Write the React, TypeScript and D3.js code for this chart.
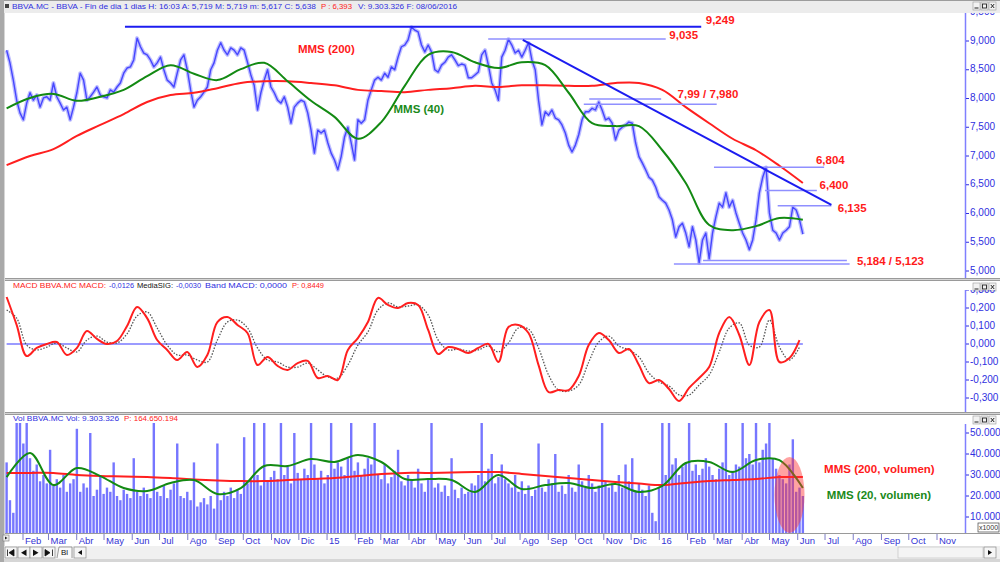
import * as d3 from 'd3';

const FONT = 'Arial, "Liberation Sans", Helvetica, sans-serif';

// one sample every ~3.7 calendar days, starting mid January 2014
const SAMPLE_START = new Date(2014, 0, 14);
const SAMPLE_STEP_HOURS = 88.2;
const MA_EVERY = 7; // moving averages read every 7th sample
const MACD_EVERY = 3; // MACD read every 3rd sample

// BBVA close, euros
const closePrices = [
  8.84, 8.62, 8.32, 7.97, 7.75, 7.63, 7.92, 8.10, 7.97, 8.06,
  7.85, 8.01, 8.03, 7.97, 8.27, 8.03, 7.92, 7.80, 7.85, 7.63,
  7.85, 8.10, 8.44, 8.32, 7.97, 8.03, 8.11, 8.20, 8.06, 8.03,
  8.01, 8.15, 8.11, 8.20, 8.27, 8.44, 8.53, 8.55, 8.67, 9.05,
  8.90, 8.79, 8.76, 8.67, 8.55, 8.62, 8.72, 8.50, 8.32, 8.27,
  8.20, 8.44, 8.67, 8.76, 8.50, 8.15, 7.85, 7.97, 8.03,
  8.11, 8.20, 8.50, 8.62, 8.84, 8.97, 8.84, 8.76, 8.88, 8.84,
  8.76, 8.88, 8.84, 8.63, 8.41, 8.23, 7.80, 8.10, 8.32, 8.50,
  8.20, 8.10, 7.97, 7.92, 8.03, 7.85, 7.57, 7.85, 7.92, 7.97,
  7.94, 7.75, 7.45, 7.05, 7.45, 7.40, 7.45, 7.23, 7.05, 6.93,
  6.76, 6.99, 7.33, 7.50, 7.23, 6.93, 7.63, 7.57, 7.63, 7.97,
  8.15, 8.32, 8.37, 8.32, 8.44, 8.37, 8.55, 8.50, 8.72, 8.90,
  8.93, 9.02, 9.24, 9.19, 9.16, 8.93, 8.81, 8.93, 8.81, 8.50,
  8.46, 8.58, 8.63, 8.72, 8.76, 8.67, 8.57, 8.60, 8.58, 8.36,
  8.36, 8.41, 8.46, 8.76, 8.84, 8.58, 8.27, 8.15, 7.97, 8.72,
  8.84, 9.03, 8.93, 8.79, 8.84, 8.72, 8.84, 8.97, 8.67, 8.50,
  7.97, 7.54, 7.77, 7.71, 7.80, 7.66, 7.63, 7.54, 7.40, 7.19,
  7.07, 7.19, 7.37, 7.63, 7.77, 7.77, 7.83, 7.80, 7.94, 7.80,
  7.63, 7.66, 7.57, 7.28, 7.45, 7.50, 7.54, 7.59, 7.57, 7.23,
  6.99, 6.88, 6.76, 6.63, 6.58, 6.46, 6.29, 6.23, 6.18, 6.06,
  5.89, 5.59, 5.77, 5.83, 5.66, 5.42, 5.77, 5.54, 5.14, 5.54,
  5.66, 5.21, 5.66, 5.94, 6.18, 6.11, 6.36, 6.11, 6.23, 6.01,
  5.83, 5.66, 5.54, 5.37, 5.54, 5.89, 6.36, 6.63, 6.80, 6.01,
  5.71, 5.66, 5.54, 5.66, 5.71, 5.77, 6.11, 6.06, 5.89, 5.64,
];

const mms200Price = [
  6.84, 7.00, 7.12, 7.35, 7.54, 7.73, 7.94, 8.06, 8.10, 8.18,
  8.27, 8.30, 8.30, 8.27, 8.23, 8.15, 8.13, 8.11, 8.15, 8.18,
  8.22, 8.20, 8.23, 8.23, 8.22, 8.22, 8.27, 8.27, 8.15, 7.85,
  7.57, 7.30, 7.10, 6.83, 6.53,
];

const mms40Price = [
  7.83, 8.01, 8.08, 7.96, 8.03, 8.15, 8.39, 8.58, 8.43, 8.32,
  8.51, 8.62, 8.30, 7.96, 7.68, 7.30, 7.59, 8.22, 8.76, 8.81,
  8.63, 8.53, 8.63, 8.58, 8.10, 7.57, 7.52, 7.52, 7.10, 6.53,
  5.80, 5.71, 5.78, 5.92, 5.89,
];

const macdValues = [
  0.261, 0.106, -0.067, -0.022, 0.000, 0.011, -0.061, -0.022, 0.072, 0.028,
  0.000, 0.017, 0.100, 0.206, 0.144, 0.022, -0.033, -0.089, -0.044, -0.128,
  -0.061, 0.122, 0.150, 0.106, 0.061, -0.117, -0.072, -0.122, -0.144, -0.106,
  -0.094, -0.189, -0.178, -0.200, -0.033, 0.033, 0.122, 0.256, 0.217, 0.200,
  0.228, 0.217, 0.078, -0.056, -0.017, -0.028, -0.050, -0.022, 0.000, -0.100,
  0.094, 0.106, 0.061, -0.117, -0.267, -0.256, -0.256, -0.178, -0.006, 0.061,
  0.022, -0.050, -0.028, -0.117, -0.217, -0.200, -0.250, -0.317, -0.244, -0.189,
  -0.128, 0.061, 0.150, 0.050, -0.117, 0.122, 0.189, -0.100, -0.078, 0.022,
];

const macdSignal = [
  0.189, 0.144, -0.006, -0.033, -0.017, 0.006, -0.022, -0.044, 0.022, 0.044,
  0.011, 0.006, 0.056, 0.156, 0.178, 0.089, -0.006, -0.061, -0.061, -0.089,
  -0.100, 0.022, 0.122, 0.133, 0.089, -0.022, -0.089, -0.100, -0.128, -0.128,
  -0.106, -0.144, -0.183, -0.189, -0.117, -0.006, 0.067, 0.189, 0.228, 0.206,
  0.211, 0.217, 0.161, 0.022, -0.033, -0.028, -0.039, -0.033, -0.011, -0.044,
  0.006, 0.089, 0.083, -0.022, -0.172, -0.256, -0.261, -0.228, -0.100, 0.011,
  0.044, -0.011, -0.033, -0.072, -0.161, -0.211, -0.233, -0.283, -0.283, -0.228,
  -0.172, -0.044, 0.089, 0.117, -0.006, -0.017, 0.133, -0.017, -0.089, -0.017,
];

// volume, thousands of shares x 1000
const volumes = [
  36, 18, 12, 58, 60, 45, 58, 38, 32, 35,
  27, 30, 26, 42, 25, 28, 24, 30, 22, 26,
  28, 52, 22, 26, 24, 50, 20, 23, 30, 21,
  24, 22, 36, 20, 18, 23, 21, 19, 38, 22,
  20, 24, 21, 19, 58, 22, 20, 25, 19, 23,
  26, 45, 20, 19, 22, 18, 36, 15, 17, 19,
  16, 20, 14, 45, 18, 22, 20, 24, 19, 23,
  21, 48, 26, 28, 58, 30, 25, 58, 27, 29,
  32, 28, 57, 30, 34, 26, 50, 31, 28, 33,
  30, 58, 35, 28, 32, 26, 30, 58, 33, 36,
  34, 30, 38, 58, 32, 36, 30, 33, 38, 35,
  58, 30, 28, 35, 26, 29, 32, 42, 27, 25,
  30, 28, 24, 33, 26, 22, 28, 58, 24, 26,
  22, 25, 20, 38, 23, 19, 24, 21, 22, 26,
  25, 30, 58, 27, 33, 40, 26, 29, 35, 28,
  26, 24, 30, 22, 27, 21, 25, 20, 23, 45,
  24, 22, 28, 26, 40, 22, 25, 21, 30, 24,
  22, 35, 27, 24, 30, 26, 22, 25, 58, 27,
  24, 26, 22, 30, 24, 35, 27, 38, 22, 26,
  23, 20, 25, 12, 8, 24, 58, 30, 58, 35,
  38, 30, 34, 36, 58, 32, 35, 30, 33, 38,
  34, 30, 28, 33, 36, 58, 30, 32, 35, 34,
  58, 38, 40, 35, 58, 36, 42, 45, 58, 38,
  33, 30, 28, 26, 35, 47, 22, 24, 20,
];

const mms200Volume = [
  31.0, 31.0, 31.0, 30.0, 29.5, 29.3, 29.0, 28.6, 27.9, 27.4,
  27.1, 27.1, 27.6, 28.1, 28.6, 29.5, 30.5, 31.0, 31.0, 31.2,
  31.4, 31.4, 30.5, 29.5, 28.6, 27.6, 26.7, 25.9, 25.2, 26.2,
  27.1, 27.6, 28.1, 29.0, 29.0,
];

const mms20Volume = [
  29.0, 40.5, 25.2, 33.3, 29.5, 23.8, 22.4, 26.2, 27.6, 21.0,
  23.8, 34.3, 34.3, 37.6, 36.2, 39.5, 36.2, 28.1, 28.1, 27.6,
  21.9, 30.0, 23.3, 25.2, 26.2, 23.8, 25.7, 21.9, 24.8, 35.7,
  36.2, 31.4, 37.1, 37.1, 23.8,
];

const priceTicks = [5, 5.5, 6, 6.5, 7, 7.5, 8, 8.5, 9, 9.5];
const macdTicks = [-0.3, -0.2, -0.1, 0, 0.1, 0.2, 0.3];
const volumeTicks = [10, 20, 30, 40, 50];
const monthNames = ['Ene', 'Feb', 'Mar', 'Abr', 'May', 'Jun', 'Jul', 'Ago', 'Sep', 'Oct', 'Nov', 'Dic'];

// support / resistance levels drawn by the analyst
const levels = [
  { price: 9.249, from: '2014-05-24', to: '2016-02-16', strong: true },
  { price: 9.035, from: '2015-06-27', to: '2016-01-08', strong: false },
  { price: 7.99, from: '2015-10-16', to: '2016-01-03', strong: false },
  { price: 7.9, from: '2015-10-10', to: '2016-03-04', strong: false },
  { price: 6.804, from: '2016-03-01', to: '2016-06-30', strong: false },
  { price: 6.4, from: '2016-04-26', to: '2016-06-22', strong: false },
  { price: 6.135, from: '2016-05-10', to: '2016-07-08', strong: false },
  { price: 5.184, from: '2016-02-18', to: '2016-07-25', strong: false },
  { price: 5.123, from: '2016-01-17', to: '2016-07-28', strong: false },
];
const trendLine = [
  { date: '2015-08-04', price: 9.02 },
  { date: '2016-07-08', price: 6.15 },
];
const priceNotes = [
  { text: '9,249', date: '2016-02-21', price: 9.35, color: '#ff1a1a' },
  { text: '9,035', date: '2016-01-12', price: 9.09, color: '#ff1a1a' },
  { text: '7,99 / 7,980', date: '2016-01-21', price: 8.06, color: '#ff1a1a' },
  { text: '6,804', date: '2016-06-21', price: 6.91, color: '#ff1a1a' },
  { text: '6,400', date: '2016-06-25', price: 6.48, color: '#ff1a1a' },
  { text: '6,135', date: '2016-07-15', price: 6.08, color: '#ff1a1a' },
  { text: '5,184 / 5,123', date: '2016-08-05', price: 5.16, color: '#ff1a1a' },
  { text: 'MMS (200)', date: '2014-11-30', price: 8.84, color: '#ff1a1a' },
  { text: 'MMS (40)', date: '2015-03-15', price: 7.8, color: '#1a8a1a' },
];
const volumeNotes = [
  { text: 'MMS (200, volumen)', date: '2016-06-30', value: 32.4, color: '#ff1a1a' },
  { text: 'MMS (20, volumen)', date: '2016-07-03', value: 20.0, color: '#1a8a1a' },
];
const volumeMark = { date: '2016-05-23', value: 20.5 };

// header pieces: text, left edge, rendered width, colour
const titlePieces = [
  { text: 'BBVA.MC - BBVA - Fin de dia 1 dias H: 16:03 A: 5,719 M: 5,719 m: 5,617 C: 5,638', x: 12, w: 304, color: '#2f2fe0' },
  { text: 'P : 6,393', x: 321, w: 31, color: '#ff2020' },
  { text: 'V: 9.303.326 F: 08/06/2016', x: 358, w: 99, color: '#2f2fe0' },
];
const macdPieces = [
  { text: 'MACD  BBVA.MC MACD:', x: 13, w: 93, color: '#ff2020' },
  { text: '-0,0126', x: 109, w: 25, color: '#2f2fe0' },
  { text: 'MediaSIG:', x: 137, w: 36, color: '#111111' },
  { text: '-0,0030', x: 176, w: 25, color: '#2f2fe0' },
  { text: 'Band  MACD: 0,0000', x: 205, w: 82, color: '#2f2fe0' },
  { text: 'P: 0,8449', x: 292, w: 32, color: '#ff2020' },
];
const volPieces = [
  { text: 'Vol  BBVA.MC Vol: 9.303.326', x: 13, w: 106, color: '#2f2fe0' },
  { text: 'P: 164.650.194', x: 124, w: 54, color: '#ff2020' },
];

const PRICE_TOP = 13, PRICE_BOTTOM = 278;
const MACD_TOP = 281, MACD_BOTTOM = 412;
const VOL_TOP = 415, VOL_BOTTOM = 533;
const AXIS_X = 965;
const LEFT = 5;

function WinButtons({ x, y }: { x: number; y: number }) {
  return (
    <g transform={`translate(${x},${y})`}>
      {[0, 8, 16].map((dx) => (
        <rect key={dx} x={dx} y={0} width={7} height={8} fill="#f2f2f2" stroke="#9a9a9a" strokeWidth={0.6} />
      ))}
      <line x1={1.5} x2={5.5} y1={6} y2={6} stroke="#222" strokeWidth={1} />
      <rect x={9.5} y={2} width={4} height={4} fill="none" stroke="#222" strokeWidth={0.9} />
      <path d="M17.8,2 L21.2,6 M21.2,2 L17.8,6" stroke="#222" strokeWidth={1} />
    </g>
  );
}

function Header({ pieces, y }: { pieces: { text: string; x: number; w: number; color: string }[]; y: number }) {
  return (
    <g>
      {pieces.map((p, i) => (
        <text
          key={i}
          x={p.x}
          y={y}
          dominantBaseline="middle"
          fontSize={8}
          fill={p.color}
          textLength={p.w}
          lengthAdjust="spacingAndGlyphs"
        >
          {p.text}
        </text>
      ))}
    </g>
  );
}

export default function App() {
  const parse = d3.timeParse('%Y-%m-%d');
  const sampleDate = (i: number) => new Date(SAMPLE_START.getTime() + i * SAMPLE_STEP_HOURS * 3600e3);

  const x = d3.scaleTime().domain([new Date(2014, 1, 1), new Date(2016, 10, 1)]).range([23, 937]);
  const yPrice = d3.scaleLinear().domain([5, 9]).range([271, 41]);
  const yMacd = d3.scaleLinear().domain([-0.3, 0.2]).range([398, 308]);
  const yVol = d3.scaleLinear().domain([0, 50]).range([538, 433]);

  const lastDate = sampleDate(closePrices.length - 1);

  const pricePath = d3.line<number>()
    .x((_, i) => x(sampleDate(i)))
    .y((d) => yPrice(d))(closePrices);

  const maPath = (scale: d3.ScaleLinear<number, number>, values: number[]) =>
    d3.line<number>()
      .x((_, i) => x(sampleDate(i * MA_EVERY)))
      .y((d) => scale(d))
      .curve(d3.curveCatmullRom.alpha(0.5))(values);

  const macdPath = (values: number[]) =>
    d3.line<number>()
      .x((_, i) => x(sampleDate(i * MACD_EVERY)))
      .y((d) => yMacd(d))
      .curve(d3.curveCatmullRom.alpha(0.5))(values);

  const months = d3.timeMonth.range(new Date(2014, 1, 1), new Date(2016, 10, 2));
  const fmtPrice = (v: number) => v.toFixed(3).replace('.', ',');
  const fmtVol = (v: number) => `${v}.000`;

  return (
    <div style={{ position: 'fixed', left: 0, top: 0 }}>
      <svg width={1000} height={562} style={{ display: 'block', fontFamily: FONT }}>
        <defs>
          <clipPath id="clip-price">
            <rect x={LEFT} y={PRICE_TOP} width={AXIS_X - LEFT} height={PRICE_BOTTOM - PRICE_TOP} />
          </clipPath>
          <clipPath id="clip-macd">
            <rect x={LEFT} y={MACD_TOP} width={AXIS_X - LEFT} height={MACD_BOTTOM - MACD_TOP} />
          </clipPath>
          <clipPath id="clip-vol">
            <rect x={LEFT} y={423} width={AXIS_X - LEFT} height={VOL_BOTTOM - 423} />
          </clipPath>
          <clipPath id="clip-price-axis">
            <rect x={AXIS_X} y={PRICE_TOP} width={35} height={PRICE_BOTTOM - PRICE_TOP} />
          </clipPath>
          <clipPath id="clip-macd-axis">
            <rect x={AXIS_X} y={290} width={35} height={MACD_BOTTOM - 290} />
          </clipPath>
        </defs>

        {/* window chrome */}
        <rect x={0} y={0} width={1000} height={562} fill="#d6d6d6" />
        <rect x={0} y={0} width={4} height={562} fill="#a9a9a9" />
        <rect x={4} y={0} width={996} height={PRICE_TOP} fill="#ececec" />
        <line x1={4} x2={1000} y1={0.5} y2={0.5} stroke="#9c9c9c" />
        <rect x={LEFT} y={PRICE_TOP} width={1000 - LEFT} height={PRICE_BOTTOM - PRICE_TOP} fill="#fff" />
        <rect x={LEFT} y={MACD_TOP} width={1000 - LEFT} height={MACD_BOTTOM - MACD_TOP} fill="#fff" />
        <rect x={LEFT} y={VOL_TOP} width={1000 - LEFT} height={VOL_BOTTOM - VOL_TOP} fill="#fff" />
        <rect x={LEFT} y={VOL_BOTTOM} width={1000 - LEFT} height={13} fill="#fff" />
        <rect x={4} y={546} width={996} height={13} fill="#f0f0f0" />
        <line x1={LEFT} x2={1000} y1={PRICE_BOTTOM + 0.5} y2={PRICE_BOTTOM + 0.5} stroke="#9a9a9a" />
        <line x1={LEFT} x2={1000} y1={MACD_TOP - 0.5} y2={MACD_TOP - 0.5} stroke="#9a9a9a" />
        <line x1={LEFT} x2={1000} y1={MACD_BOTTOM + 0.5} y2={MACD_BOTTOM + 0.5} stroke="#9a9a9a" />
        <line x1={LEFT} x2={1000} y1={VOL_TOP - 0.5} y2={VOL_TOP - 0.5} stroke="#9a9a9a" />
        <line x1={LEFT} x2={1000} y1={VOL_BOTTOM + 0.5} y2={VOL_BOTTOM + 0.5} stroke="#9a9a9a" />

        {/* title bar */}
        <rect x={5} y={4} width={4} height={4} fill="#444" />
        <Header pieces={titlePieces} y={7} />
        <WinButtons x={973} y={2} />

        {/* ---------- price panel ---------- */}
        <g clipPath="url(#clip-price)">
          <path d={pricePath ?? ''} fill="none" stroke="#a4a4ff" strokeWidth={4} strokeLinejoin="round" opacity={0.7} />
          <path d={pricePath ?? ''} fill="none" stroke="#4646ff" strokeWidth={1.4} strokeLinejoin="round" />
          <path d={maPath(yPrice, mms200Price) ?? ''} fill="none" stroke="#ff1f1f" strokeWidth={2} />
          <path d={maPath(yPrice, mms40Price) ?? ''} fill="none" stroke="#138a13" strokeWidth={2} />
          {levels.map((l, i) => (
            <line
              key={i}
              x1={x(parse(l.from)!)}
              x2={x(parse(l.to)!)}
              y1={yPrice(l.price)}
              y2={yPrice(l.price)}
              stroke={l.strong ? '#1c1cf0' : '#8f8fff'}
              strokeWidth={l.strong ? 2 : 1.5}
            />
          ))}
          <line
            x1={x(parse(trendLine[0].date)!)}
            y1={yPrice(trendLine[0].price)}
            x2={x(parse(trendLine[1].date)!)}
            y2={yPrice(trendLine[1].price)}
            stroke="#1c1cf0"
            strokeWidth={2}
          />
          {priceNotes.map((n, i) => (
            <text
              key={i}
              x={x(parse(n.date)!)}
              y={yPrice(n.price)}
              dominantBaseline="middle"
              fontSize={11.5}
              fontWeight="bold"
              fill={n.color}
            >
              {n.text}
            </text>
          ))}
        </g>
        {/* price axis */}
        <line x1={AXIS_X + 0.5} x2={AXIS_X + 0.5} y1={PRICE_TOP} y2={PRICE_BOTTOM} stroke="#7f7fff" strokeWidth={1.5} />
        <g clipPath="url(#clip-price-axis)">
          {priceTicks.map((t) => (
            <g key={t}>
              <line x1={AXIS_X + 1} x2={AXIS_X + 4} y1={yPrice(t)} y2={yPrice(t)} stroke="#2f2fe0" />
              <text x={AXIS_X + 5} y={yPrice(t)} dominantBaseline="middle" fontSize={10} fill="#2f2fe0">
                {fmtPrice(t)}
              </text>
            </g>
          ))}
        </g>

        {/* ---------- MACD panel ---------- */}
        <Header pieces={macdPieces} y={286} />
        <WinButtons x={973} y={283} />
        <g clipPath="url(#clip-macd)">
          <line x1={x(sampleDate(0))} x2={x(lastDate)} y1={yMacd(0)} y2={yMacd(0)} stroke="#7a7aff" strokeWidth={1.5} />
          <path d={macdPath(macdSignal) ?? ''} fill="none" stroke="#555" strokeWidth={1.3} strokeDasharray="1.5,1.5" />
          <path d={macdPath(macdValues) ?? ''} fill="none" stroke="#ff1f1f" strokeWidth={2} />
        </g>
        <line x1={AXIS_X + 0.5} x2={AXIS_X + 0.5} y1={290} y2={MACD_BOTTOM} stroke="#7f7fff" strokeWidth={1.5} />
        <g clipPath="url(#clip-macd-axis)">
          {macdTicks.map((t) => (
            <g key={t}>
              <line x1={AXIS_X + 1} x2={AXIS_X + 4} y1={yMacd(t)} y2={yMacd(t)} stroke="#2f2fe0" />
              <text x={AXIS_X + 5} y={yMacd(t)} dominantBaseline="middle" fontSize={10} fill="#2f2fe0">
                {fmtPrice(t)}
              </text>
            </g>
          ))}
        </g>

        {/* ---------- volume panel ---------- */}
        <Header pieces={volPieces} y={419} />
        <WinButtons x={973} y={416} />
        <g clipPath="url(#clip-vol)">
          {volumes.map((v, i) => (
            <rect
              key={i}
              x={x(sampleDate(i)) - 1.2}
              width={2.4}
              y={yVol(v)}
              height={VOL_BOTTOM - yVol(v)}
              fill="#7676ff"
            />
          ))}
          <path d={maPath(yVol, mms200Volume) ?? ''} fill="none" stroke="#ff1f1f" strokeWidth={2} />
          <path d={maPath(yVol, mms20Volume) ?? ''} fill="none" stroke="#138a13" strokeWidth={2} />
          <ellipse
            cx={x(parse(volumeMark.date)!)}
            cy={yVol(volumeMark.value)}
            rx={15}
            ry={38}
            fill="#ff3030"
            opacity={0.45}
          />
        </g>
        {volumeNotes.map((n, i) => (
          <text
            key={i}
            x={x(parse(n.date)!)}
            y={yVol(n.value)}
            dominantBaseline="middle"
            fontSize={11.5}
            fontWeight="bold"
            fill={n.color}
          >
            {n.text}
          </text>
        ))}
        <line x1={AXIS_X + 0.5} x2={AXIS_X + 0.5} y1={424} y2={VOL_BOTTOM} stroke="#7f7fff" strokeWidth={1.5} />
        {volumeTicks.map((t) => (
          <g key={t}>
            <line x1={AXIS_X + 1} x2={AXIS_X + 4} y1={yVol(t)} y2={yVol(t)} stroke="#2f2fe0" />
            <text x={AXIS_X + 5} y={yVol(t)} dominantBaseline="middle" fontSize={10} fill="#2f2fe0">
              {fmtVol(t)}
            </text>
          </g>
        ))}
        <rect x={978} y={523} width={21} height={9} fill="#fff" stroke="#444" strokeWidth={0.7} />
        <text x={988.5} y={528} textAnchor="middle" dominantBaseline="middle" fontSize={7} fill="#333">x1000</text>

        {/* ---------- date axis ---------- */}
        <rect x={3} y={535} width={6} height={6} fill="#eee" stroke="#777" strokeWidth={0.6} />
        <path d="M5,536.5 L7.5,538 L5,539.5 Z" fill="#222" />
        {months.map((m, i) => (
          <g key={i}>
            <line x1={x(m)} x2={x(m)} y1={VOL_BOTTOM + 1} y2={VOL_BOTTOM + 7} stroke="#7c7cc8" />
            <text x={x(m) + 2} y={541} dominantBaseline="middle" fontSize={9.5} fill="#3535d5">
              {m.getMonth() === 0 ? String(m.getFullYear()).slice(2) : monthNames[m.getMonth()]}
            </text>
          </g>
        ))}

        {/* navigation strip */}
        {[5, 18, 30, 43].map((bx) => (
          <rect key={bx} x={bx} y={547} width={12} height={11} fill="#f6f6f6" stroke="#8a8a8a" strokeWidth={0.7} />
        ))}
        <path d="M7.5,549.5 V556 M14,549.5 L9,552.7 L14,556 Z" stroke="#111" fill="#111" strokeWidth={0.8} />
        <path d="M26.5,549.5 L21,552.7 L26.5,556 Z" fill="#111" />
        <path d="M33,549.5 L38.5,552.7 L33,556 Z" fill="#111" />
        <path d="M45,549.5 L50,552.7 L45,556 Z M52.5,549.5 V556" stroke="#111" fill="#111" strokeWidth={0.8} />
        <path d="M57,558 L59,547 H72 V558" fill="#fafafa" stroke="#777" strokeWidth={0.7} />
        <text x={61} y={553} dominantBaseline="middle" fontSize={8} fill="#111">Bl</text>
        <rect x={74} y={547} width={12} height={11} fill="#f6f6f6" stroke="#8a8a8a" strokeWidth={0.7} />
        <path d="M82,550 L78,552.5 L82,555 Z" fill="#111" />
        <rect x={898} y={547} width={85} height={11} fill="#f4f4f4" stroke="#c4c4c4" strokeWidth={0.7} />
        <rect x={984} y={547} width={12} height={11} fill="#f6f6f6" stroke="#8a8a8a" strokeWidth={0.7} />
        <path d="M988,550 L992,552.5 L988,555 Z" fill="#111" />
      </svg>
    </div>
  );
}
